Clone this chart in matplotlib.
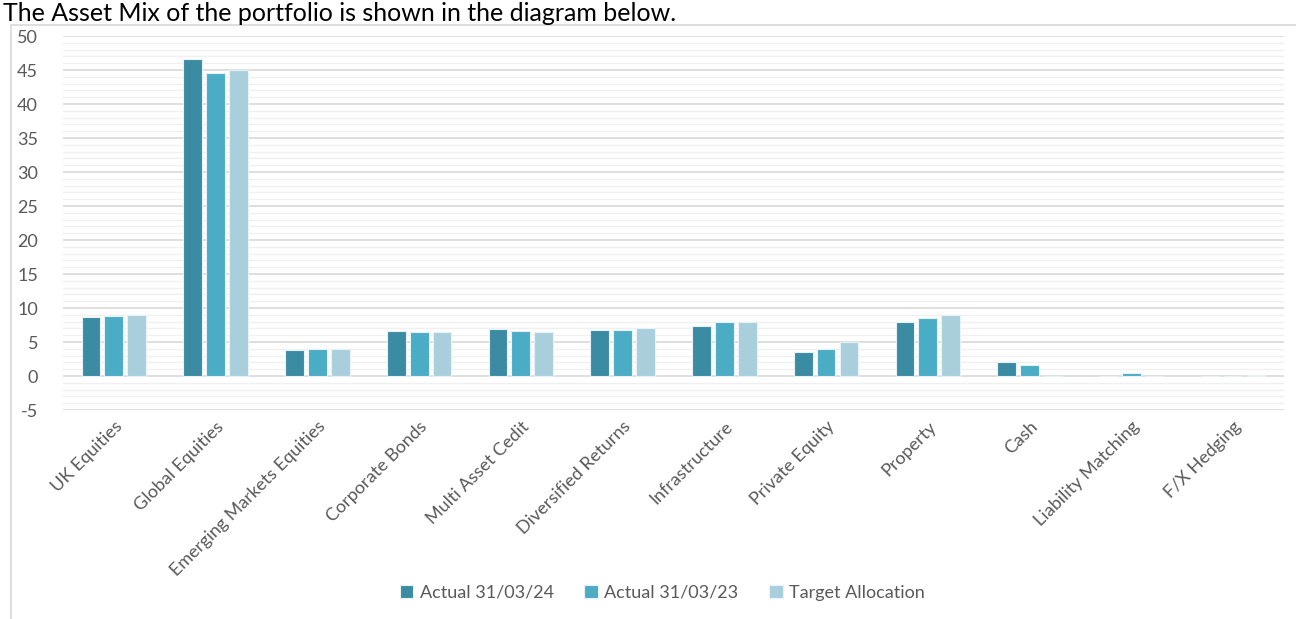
import numpy as np
import matplotlib
matplotlib.use("Agg")
import matplotlib.pyplot as plt
from matplotlib.patches import Rectangle

plt.rcParams['font.family'] = ['Lato', 'DejaVu Sans']
plt.rcParams['axes.unicode_minus'] = False

categories = ["UK Equities", "Global Equities", "Emerging Markets Equities",
              "Corporate Bonds", "Multi Asset Cedit", "Diversified Returns",
              "Infrastructure", "Private Equity", "Property", "Cash",
              "Liability Matching", "F/X Hedging"]
actual_24 = [8.7, 46.6, 3.8, 6.6, 6.9, 6.7, 7.4, 3.5, 7.9, 2.1, 0.0, 0.0]
actual_23 = [8.8, 44.6, 4.0, 6.5, 6.6, 6.8, 7.9, 4.0, 8.6, 1.6, 0.5, 0.0]
target = [9.0, 45.0, 4.0, 6.5, 6.5, 7.0, 8.0, 5.0, 9.0, 0.0, 0.0, 0.2]

series = [("Actual 31/03/24", actual_24, "#3B8BA3"),
          ("Actual 31/03/23", actual_23, "#4BACC6"),
          ("Target Allocation", target, "#A9CFDD")]

fig = plt.figure(figsize=(12.96, 6.19), dpi=100)
ax = fig.add_axes([0.0486, 0.3376, 0.9421, 0.6042])

# outer chart frame (left and top visible)
fig.add_artist(Rectangle((11 / 1296, -0.01), 1.0, 1 - 25 / 619 + 0.01,
                         transform=fig.transFigure, fill=False,
                         edgecolor="#d9d9d9", lw=1.2))

# title above the chart frame
fig.text(0.002, 1 - 21 / 619, "The Asset Mix of the portfolio is shown in the diagram below.",
         fontsize=18, color="black", va="baseline", ha="left")

x = np.arange(len(categories))
w = 0.185
gap = 0.225
for i, (lab, vals, col) in enumerate(series):
    ax.bar(x + (i - 1) * gap, vals, width=w, color=col, edgecolor="#e6f2f6",
           linewidth=0.8, label=lab, zorder=3)

ax.set_xlim(-0.5, len(categories) - 0.5)
ax.set_ylim(-5, 50)
ax.set_yticks(np.arange(-5, 51, 5))
ax.set_yticks(np.arange(-5, 51, 1), minor=True)
ax.grid(axis="y", which="major", color="#d9d9d9", lw=1.2, zorder=0)
ax.grid(axis="y", which="minor", color="#f0f0f0", lw=1.0, zorder=0)
for s in ax.spines.values():
    s.set_visible(False)
ax.tick_params(axis="both", which="both", length=0, colors="#595959", labelsize=13)
ax.tick_params(axis="y", pad=18)
ax.set_xticks(x)
ax.set_xticklabels(categories, rotation=45, ha="right", rotation_mode="anchor")
ax.tick_params(axis="x", pad=6)

fig.legend(loc="center", bbox_to_anchor=(0.511, 1 - 593 / 619), ncol=3, frameon=False,
           fontsize=13, handlelength=0.75, handleheight=0.75, handletextpad=0.35,
           columnspacing=1.7, labelcolor="#595959")

fig.savefig("out.png", dpi=100)
